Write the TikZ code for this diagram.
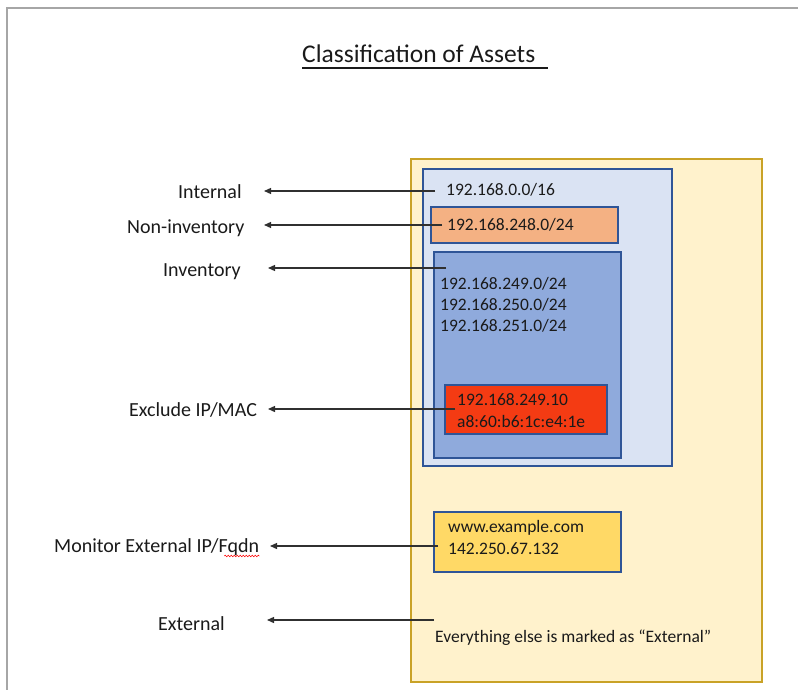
\documentclass[tikz,border=0pt]{standalone}
\usepackage{fontspec}
\setmainfont{Carlito}
\usetikzlibrary{arrows.meta,decorations.pathmorphing}
\definecolor{frameGray}{HTML}{A6A6A6}
\definecolor{extFill}{HTML}{FFF2CC}
\definecolor{extLine}{HTML}{C9A227}
\definecolor{intFill}{HTML}{DAE3F3}
\definecolor{blueLine}{HTML}{2F5597}
\definecolor{nonInvFill}{HTML}{F4B183}
\definecolor{invFill}{HTML}{8FAADC}
\definecolor{exclFill}{HTML}{F43B13}
\definecolor{monFill}{HTML}{FFD966}
\definecolor{txtDark}{HTML}{1A1A1A}
\definecolor{arrowGray}{HTML}{303030}
\tikzset{
  region/.style={draw, rectangle, anchor=north west, inner sep=0pt, outer sep=0pt},
  boxtext/.style={anchor=base west, inner sep=0pt, text=txtDark, font=\fontsize{17.5}{21}\selectfont},
  labeltext/.style={anchor=base west, inner sep=0pt, text=txtDark, font=\fontsize{20}{24}\selectfont},
  pointer/.style={draw=arrowGray, line width=1.3pt, -{Triangle[length=7pt,width=6pt]}},
}
\begin{document}
\begin{tikzpicture}[x=1pt,y=-1pt]
\useasboundingbox (0,0) rectangle (798,690);
% page frame
\draw[frameGray, line width=2pt] (7,690) -- (7,8) -- (798,8);
% title
\node[anchor=base west, inner sep=0pt, text=txtDark, font=\fontsize{25.5}{30}\selectfont] (title) at (302,63) {Classification of Assets};
\draw[txtDark, line width=2pt] ([yshift=-5pt]title.base west) -- ++(246,0);

% regions
\node[region, fill=extFill, draw=extLine, line width=2pt, minimum width=351pt, minimum height=523pt] (ext) at (411,159) {};
\node[region, fill=intFill, draw=blueLine, line width=1.5pt, minimum width=249pt, minimum height=297pt] (int) at (423,169) {};
\node[region, fill=nonInvFill, draw=blueLine, line width=1.5pt, minimum width=187pt, minimum height=36pt] (noninv) at (431,207) {};
\node[region, fill=invFill, draw=blueLine, line width=1.5pt, minimum width=187pt, minimum height=206pt] (inv) at (434,252) {};
\node[region, fill=exclFill, draw=blueLine, line width=1.5pt, minimum width=162pt, minimum height=49pt] (excl) at (445,385) {};
\node[region, fill=monFill, draw=blueLine, line width=1.5pt, minimum width=187pt, minimum height=60pt] (mon) at (434,512) {};

% region texts
\node[boxtext] (tInt) at (446,195) {192.168.0.0/16};
\node[boxtext] (tNon) at (447,230) {192.168.248.0/24};
\node[boxtext] (tInvA) at (440,289) {192.168.249.0/24};
\node[boxtext] (tInvB) at (440,310) {192.168.250.0/24};
\node[boxtext] (tInvC) at (440,331) {192.168.251.0/24};
\node[boxtext] (tExA) at (457,405) {192.168.249.10};
\node[boxtext] (tExB) at (457,427) {a8:60:b6:1c:e4:1e};
\node[boxtext] (tMonA) at (448,532) {www.example.com};
\node[boxtext] (tMonB) at (448,554) {142.250.67.132};
\node[boxtext] (tExt) at (435,642) {Everything else is marked as “External”};

% labels
\node[labeltext] (lInt) at (178,198) {Internal};
\node[labeltext] (lNon) at (127,233) {Non-inventory};
\node[labeltext] (lInv) at (163,276) {Inventory};
\node[labeltext] (lExcl) at (129,416) {Exclude IP/MAC};
\node[labeltext] (lMon) at (54,552) {Monitor External IP/Fqdn};
\node[labeltext] (lExt) at (158,630) {External};
\draw[red, line width=0.6pt, decorate, decoration={snake, amplitude=0.8pt, segment length=3pt}]
  ([xshift=-35pt,yshift=-4pt]lMon.base east) -- ([yshift=-4pt]lMon.base east);

% connector ends
\coordinate (sInt) at (435,191);  \coordinate (eInt) at (264,191);
\coordinate (sNon) at (442,225);  \coordinate (eNon) at (264,225);
\coordinate (sInv) at (446,268);  \coordinate (eInv) at (268,268);
\coordinate (sExcl) at (455,409); \coordinate (eExcl) at (268,409);
\coordinate (sMon) at (438,546);  \coordinate (eMon) at (270,546);
\coordinate (sExt) at (434,620);  \coordinate (eExt) at (267,620);

\draw[pointer] (sInt) -- (eInt);
\draw[pointer] (sNon) -- (eNon);
\draw[pointer] (sInv) -- (eInv);
\draw[pointer] (sExcl) -- (eExcl);
\draw[pointer] (sMon) -- (eMon);
\draw[pointer] (sExt) -- (eExt);
\end{tikzpicture}
\end{document}
